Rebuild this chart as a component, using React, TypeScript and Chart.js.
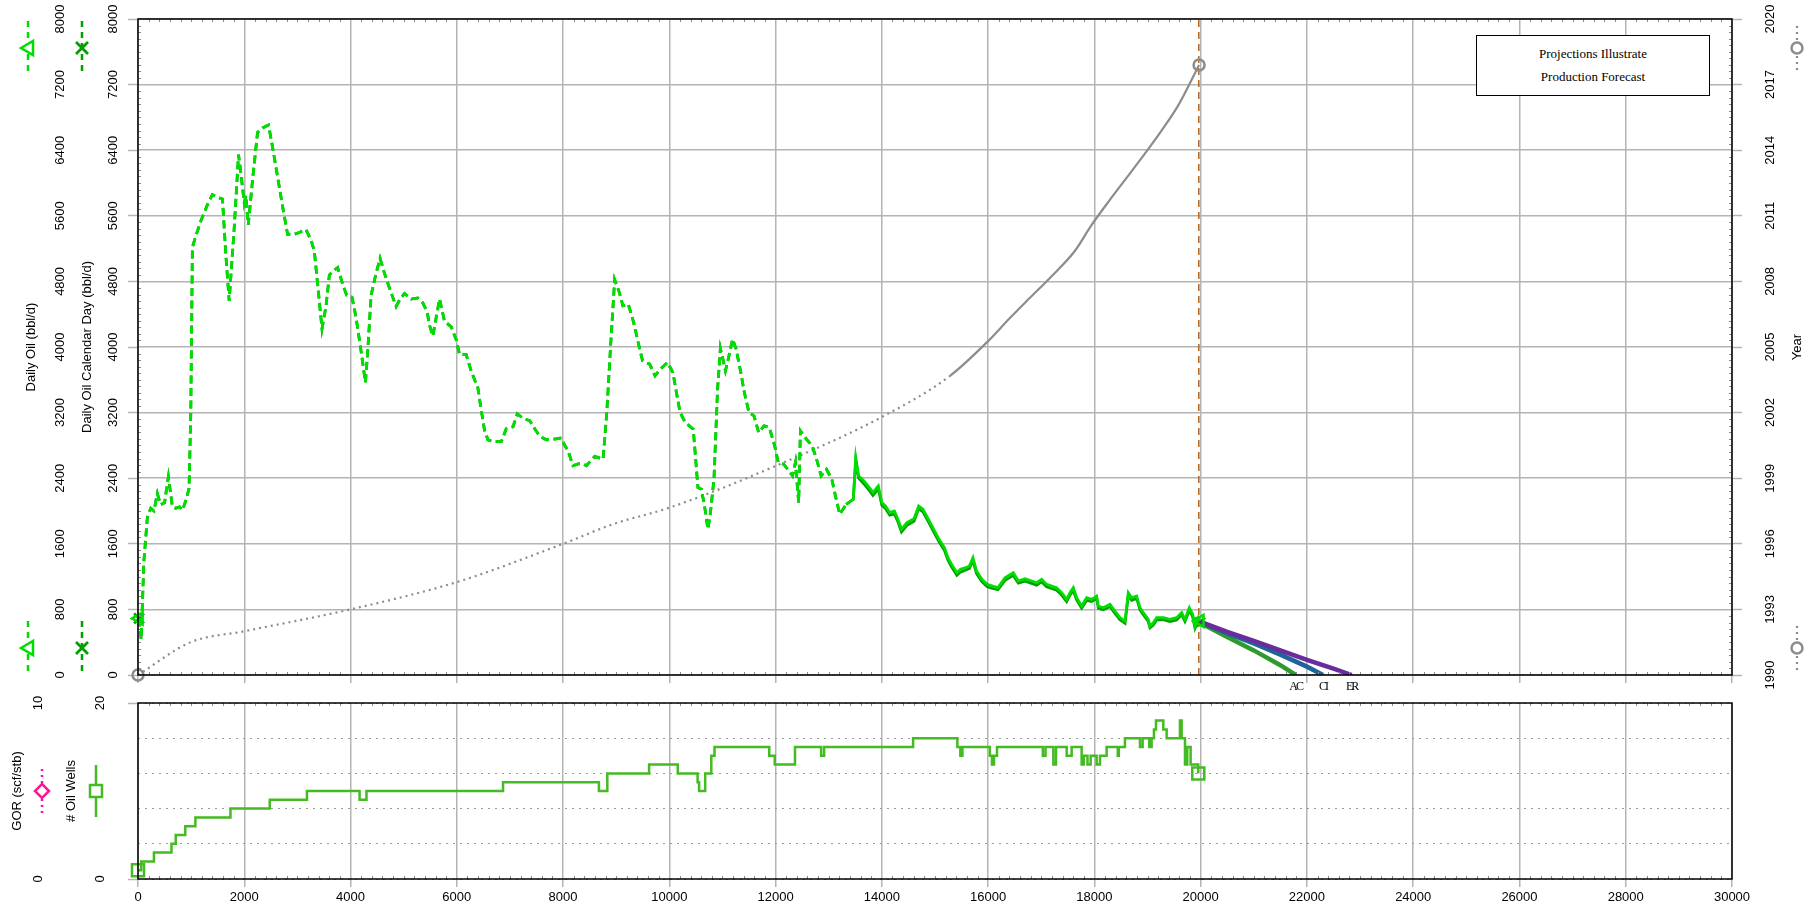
import React, { useEffect, useRef } from 'react';
import { Chart, registerables } from 'chart.js';

Chart.register(...registerables);

// ---------- data ----------
const oilX = [
  20, 60, 110, 176, 239, 300, 364, 427, 500, 572,
  647, 710, 780, 836, 911, 961, 993, 1024, 1087, 1181,
  1307, 1401, 1496, 1590, 1653, 1716, 1747, 1810, 1892, 1936,
  1999, 2031, 2075, 2155, 2250, 2344, 2457, 2533, 2627, 2721,
  2815, 2941, 3035, 3161, 3255, 3318, 3381, 3463, 3538, 3601,
  3664, 3758, 3852, 3928, 4028, 4104, 4198, 4280, 4324, 4387,
  4481, 4556, 4638, 4732, 4858, 4933, 5015, 5140, 5266, 5360,
  5442, 5486, 5549, 5612, 5675, 5769, 5895, 5989, 6052, 6177,
  6272, 6397, 6460, 6523, 6586, 6680, 6837, 6931, 7057, 7139,
  7246, 7371, 7465, 7560, 7685, 7842, 7968, 8031, 8094, 8188,
  8282, 8376, 8439, 8596, 8753, 8823, 8891, 8971, 9059, 9126,
  9227, 9328, 9428, 9496, 9630, 9731, 9832, 9966, 10067, 10134,
  10202, 10302, 10450, 10491, 10538, 10605, 10672, 10726, 10773, 10840,
  10908, 10961, 11008, 11056, 11109, 11190, 11257, 11345, 11412, 11499,
  11593, 11681, 11782, 11882, 11983, 12050, 12151, 12252, 12319, 12373,
  12434, 12467, 12554, 12689, 12790, 12857, 12958, 13059, 13126, 13207,
  13328, 13462, 13509, 13563, 13664, 13765, 13832, 13933, 14000, 14067,
  14148, 14235, 14302, 14370, 14471, 14605, 14692, 14773, 14874, 14975,
  15076, 15177, 15244, 15311, 15412, 15479, 15580, 15647, 15714, 15782,
  15882, 15983, 16084, 16185, 16317, 16474, 16568, 16694, 16819, 16913,
  17007, 17101, 17289, 17384, 17478, 17540, 17603, 17666, 17760, 17854,
  17948, 18042, 18074, 18168, 18293, 18387, 18481, 18576, 18638, 18701,
  18795, 18858, 18920, 19014, 19046, 19109, 19171, 19297, 19422, 19548,
  19642, 19705, 19786, 19849, 19893, 19955, 19987,
];

const oilDaily = [
  690, 430, 1380, 1920, 2033, 2000, 2213, 2078, 2100, 2416,
  2055, 2033, 2050, 2010, 2146, 2281, 3184, 5217, 5352, 5533,
  5736, 5858, 5826, 5804, 5126, 4562, 4855, 5442, 6346, 6120,
  5759, 5849, 5488, 6029, 6617, 6671, 6707, 6436, 6075, 5714,
  5375, 5375, 5397, 5433, 5307, 5171, 4765, 4223, 4494, 4878,
  4923, 4968, 4765, 4630, 4607, 4359, 3952, 3568, 3952, 4630,
  4900, 5081, 4900, 4720, 4494, 4585, 4652, 4585, 4598, 4539,
  4426, 4268, 4133, 4359, 4585, 4314, 4246, 4088, 3907, 3907,
  3704, 3501, 3230, 2981, 2868, 2846, 2846, 3004, 3027, 3184,
  3130, 3103, 3004, 2914, 2868, 2877, 2891, 2801, 2733, 2552,
  2575, 2575, 2552, 2665, 2633, 3201, 3974, 4820, 4666, 4503,
  4524, 4300, 4015, 3832, 3791, 3649, 3730, 3811, 3689, 3445,
  3201, 3079, 2998, 2672, 2286, 2265, 2021, 1777, 1980, 2387,
  3486, 3982, 3852, 3710, 3852, 4096, 3974, 3689, 3445, 3201,
  3160, 2957, 3038, 3018, 2794, 2591, 2571, 2489, 2428, 2591,
  2103, 2977, 2896, 2794, 2591, 2428, 2509, 2387, 2184, 1960,
  2082, 2143, 2652, 2428, 2367, 2286, 2225, 2306, 2103, 2062,
  1981, 2001, 1899, 1777, 1858, 1907, 2062, 2021, 1899, 1777,
  1655, 1553, 1431, 1350, 1248, 1289, 1309, 1329, 1431, 1268,
  1167, 1106, 1085, 1065, 1186, 1247, 1146, 1174, 1146, 1125,
  1166, 1105, 1064, 1003, 922, 1003, 1064, 942, 841, 942,
  922, 963, 841, 820, 861, 780, 699, 658, 1003, 942,
  963, 820, 760, 678, 597, 638, 699, 699, 678, 699,
  760, 678, 820, 740, 597, 699, 660,
];

const oilCalendar = [
  690, 430, 1380, 1920, 2033, 2000, 2213, 2078, 2100, 2416,
  2055, 2033, 2050, 2010, 2146, 2281, 3184, 5217, 5352, 5533,
  5736, 5858, 5826, 5804, 5126, 4562, 4855, 5442, 6346, 6120,
  5759, 5849, 5488, 6029, 6617, 6671, 6707, 6436, 6075, 5714,
  5375, 5375, 5397, 5433, 5307, 5171, 4765, 4223, 4494, 4878,
  4923, 4968, 4765, 4630, 4607, 4359, 3952, 3568, 3952, 4630,
  4900, 5081, 4900, 4720, 4494, 4585, 4652, 4585, 4598, 4539,
  4426, 4268, 4133, 4359, 4585, 4314, 4246, 4088, 3907, 3907,
  3704, 3501, 3230, 2981, 2868, 2846, 2846, 3004, 3027, 3184,
  3130, 3103, 3004, 2914, 2868, 2877, 2891, 2801, 2733, 2552,
  2575, 2575, 2552, 2665, 2633, 3201, 3974, 4820, 4666, 4503,
  4524, 4300, 4015, 3832, 3791, 3649, 3730, 3811, 3689, 3445,
  3201, 3079, 2998, 2672, 2286, 2265, 2021, 1777, 1980, 2387,
  3486, 3982, 3852, 3710, 3852, 4096, 3974, 3689, 3445, 3201,
  3160, 2957, 3038, 3018, 2794, 2591, 2571, 2489, 2428, 2591,
  2103, 2977, 2896, 2794, 2591, 2428, 2509, 2387, 2184, 1960,
  2082, 2143, 2610, 2400, 2330, 2250, 2190, 2270, 2070, 2030,
  1950, 1965, 1870, 1745, 1825, 1875, 2030, 1990, 1870, 1745,
  1625, 1520, 1400, 1320, 1215, 1255, 1280, 1300, 1395, 1235,
  1140, 1075, 1055, 1040, 1155, 1215, 1120, 1145, 1118, 1095,
  1135, 1075, 1035, 975, 895, 975, 1030, 915, 815, 910,
  895, 935, 815, 795, 835, 752, 675, 632, 970, 912,
  935, 795, 735, 652, 575, 610, 672, 675, 652, 672,
  735, 652, 790, 712, 572, 672, 640,
];

const yearX = [0, 993, 1999, 3997, 6001, 8000, 8942, 10000, 12000, 14000, 15277, 16000, 16400, 16757, 17200, 17631, 17939, 18267, 18594, 18922, 19250, 19578, 19970];
const yearV = [1990.0, 1991.5, 1992.0, 1993.0, 1994.25, 1996.0, 1996.9, 1997.65, 1999.56, 2001.8, 2003.67, 2005.27, 2006.3, 2007.18, 2008.25, 2009.39, 2010.55, 2011.65, 2012.7, 2013.75, 2014.85, 2016.05, 2017.9];

const acX = [19987, 20500, 21000, 21500, 21788];
const acY = [638, 462, 300, 120, 0];
const ciX = [19987, 20500, 21000, 21500, 22000, 22302];
const ciY = [645, 508, 385, 248, 102, 0];
const erX = [19987, 20500, 21000, 21500, 22000, 22500, 22842];
const erY = [650, 525, 415, 300, 185, 78, 0];
const forecastNames = ['AC', 'CI', 'ER'];

const wellX = [
  0, 60, 300, 630, 710, 890, 1080, 1740, 2480, 3180,
  4170, 4300, 6870, 8675, 8833, 9619, 10159, 10532, 10560, 10675,
  10790, 10850, 11881, 11984, 12365, 12857, 12913, 14588, 15421, 15477,
  15516, 16032, 16072, 16111, 16167, 17030, 17080, 17227, 17277, 17478,
  17572, 17760, 17800, 17870, 17930, 18042, 18105, 18230, 18440, 18460,
  18575, 18858, 18908, 19033, 19077, 19121, 19159, 19297, 19360, 19610,
  19642, 19705, 19748, 19811, 19955,
];
const wellN = [
  1, 2, 3, 4, 5, 6, 7, 8, 9, 10,
  9, 10, 11, 10, 12, 13, 12, 11, 10, 12,
  14, 15, 14, 13, 15, 14, 15, 16, 15, 14,
  15, 14, 13, 14, 15, 14, 15, 13, 15, 14,
  15, 13, 14, 13, 14, 13, 14, 15, 14, 15,
  16, 15, 16, 15, 16, 17, 18, 17, 16, 18,
  16, 13, 15, 13, 12,
];

const forecastStartX = 19965;
const dashedOilUntil = 13300;
const dottedYearUntil = 15277;

// ---------- styles ----------
const FONT = "'Liberation Sans', Arial, sans-serif";
const SERIF = "'Liberation Serif', 'Times New Roman', serif";
const GRID = '#b4b4b4';
const OIL = '#00dd00';
const OIL_CAL = '#00a000';
const WELLS = '#44bb22';
const YEARC = '#8c8c8c';
const PINK = '#ff1493';
const AC_C = '#2f9a2f';
const CI_C = '#1e6496';
const ER_C = '#6a2c9c';
const VLINE = '#b5651d';

const tickFont = { family: FONT, size: 13 };
const numLabel = (v: any) => String(v);

const pts = (xs: number[], ys: number[]) => xs.map((x, i) => ({ x, y: ys[i] }));
const endsOnly = (n: number, r: number) => (c: any) => (c.dataIndex === 0 || c.dataIndex === n - 1 ? r : 0);
const fixW = (w: number) => (s: any) => { s.width = w; s.paddingTop = 0; s.paddingBottom = 0; };
const fixH = (h: number) => (s: any) => { s.height = h; };

// ---------- glyph helpers ----------
function vline(ctx: CanvasRenderingContext2D, x: number, y1: number, y2: number, color: string, w: number, dash: number[]) {
  ctx.save();
  ctx.strokeStyle = color;
  ctx.lineWidth = w;
  ctx.setLineDash(dash);
  ctx.beginPath();
  ctx.moveTo(x, y1);
  ctx.lineTo(x, y2);
  ctx.stroke();
  ctx.restore();
}
function gTriangle(ctx: CanvasRenderingContext2D, x: number, y: number) {
  vline(ctx, x, y - 27, y + 27, OIL, 2.5, [6, 5]);
  ctx.save();
  ctx.fillStyle = '#fff';
  ctx.strokeStyle = OIL;
  ctx.lineWidth = 2.5;
  ctx.beginPath();
  ctx.moveTo(x - 7, y);
  ctx.lineTo(x + 5, y - 7);
  ctx.lineTo(x + 5, y + 7);
  ctx.closePath();
  ctx.fill();
  ctx.stroke();
  ctx.restore();
}
function gCross(ctx: CanvasRenderingContext2D, x: number, y: number) {
  vline(ctx, x, y - 27, y + 27, OIL_CAL, 2.5, [6, 5]);
  ctx.save();
  ctx.strokeStyle = OIL_CAL;
  ctx.lineWidth = 2.8;
  ctx.beginPath();
  ctx.moveTo(x - 6, y - 6);
  ctx.lineTo(x + 6, y + 6);
  ctx.moveTo(x + 6, y - 6);
  ctx.lineTo(x - 6, y + 6);
  ctx.stroke();
  ctx.restore();
}
function gCircle(ctx: CanvasRenderingContext2D, x: number, y: number) {
  vline(ctx, x, y - 22, y + 22, YEARC, 2.2, [2, 4]);
  ctx.save();
  ctx.fillStyle = '#fff';
  ctx.strokeStyle = YEARC;
  ctx.lineWidth = 2.5;
  ctx.beginPath();
  ctx.arc(x, y, 5.5, 0, Math.PI * 2);
  ctx.fill();
  ctx.stroke();
  ctx.restore();
}
function gDiamond(ctx: CanvasRenderingContext2D, x: number, y: number) {
  vline(ctx, x, y - 22, y + 22, PINK, 2.5, [2, 4]);
  ctx.save();
  ctx.fillStyle = '#fff';
  ctx.strokeStyle = PINK;
  ctx.lineWidth = 2.5;
  ctx.beginPath();
  ctx.moveTo(x, y - 7);
  ctx.lineTo(x + 7, y);
  ctx.lineTo(x, y + 7);
  ctx.lineTo(x - 7, y);
  ctx.closePath();
  ctx.fill();
  ctx.stroke();
  ctx.restore();
}
function gSquare(ctx: CanvasRenderingContext2D, x: number, y: number) {
  vline(ctx, x, y - 26, y + 26, WELLS, 2.5, []);
  ctx.save();
  ctx.fillStyle = '#fff';
  ctx.strokeStyle = WELLS;
  ctx.lineWidth = 2.5;
  ctx.beginPath();
  ctx.rect(x - 6, y - 6, 12, 12);
  ctx.fill();
  ctx.stroke();
  ctx.restore();
}

function drawFrameAndMinor(chart: any, yScaleId: string | null, yMinorStep: number, yMajor: number) {
  const ctx: CanvasRenderingContext2D = chart.ctx;
  const a = chart.chartArea;
  const xs = chart.scales.x;
  ctx.save();
  ctx.strokeStyle = '#8a8a8a';
  ctx.lineWidth = 1;
  ctx.beginPath();
  for (let v = 200; v < 30000; v += 200) {
    if (v % 2000 === 0) continue;
    const px = Math.round(xs.getPixelForValue(v)) + 0.5;
    ctx.moveTo(px, a.top);
    ctx.lineTo(px, a.top + 3);
    ctx.moveTo(px, a.bottom);
    ctx.lineTo(px, a.bottom - 3);
  }
  if (yScaleId) {
    const ys = chart.scales[yScaleId];
    for (let v = yMinorStep; v < ys.max - ys.min; v += yMinorStep) {
      if (Math.abs(v % yMajor) < 1e-6) continue;
      const py = Math.round(ys.getPixelForValue(ys.min + v)) + 0.5;
      ctx.moveTo(a.left, py);
      ctx.lineTo(a.left + 3, py);
      ctx.moveTo(a.right, py);
      ctx.lineTo(a.right - 3, py);
    }
  }
  ctx.stroke();
  ctx.strokeStyle = '#000';
  ctx.lineWidth = 1.5;
  ctx.strokeRect(a.left, a.top, a.right - a.left, a.bottom - a.top);
  ctx.restore();
}

const mainDecor = {
  id: 'mainDecor',
  afterDraw(chart: any) {
    const ctx: CanvasRenderingContext2D = chart.ctx;
    const a = chart.chartArea;
    drawFrameAndMinor(chart, 'yOil', 80, 800);
    const outerX = chart.scales.yOil.left + 28;
    const innerX = chart.scales.yCal.left + 2;
    const rightX = chart.scales.yYear.left + 65;
    const topY = a.top + 29;
    const botY = a.bottom - 27;
    gTriangle(ctx, outerX, topY);
    gTriangle(ctx, outerX, botY);
    gCross(ctx, innerX, topY);
    gCross(ctx, innerX, botY);
    gCircle(ctx, rightX, topY);
    gCircle(ctx, rightX, botY);
    // Year title (reads bottom to top)
    ctx.save();
    ctx.translate(rightX, (a.top + a.bottom) / 2);
    ctx.rotate(-Math.PI / 2);
    ctx.font = `13px ${FONT}`;
    ctx.fillStyle = '#000';
    ctx.textAlign = 'center';
    ctx.textBaseline = 'middle';
    ctx.fillText('Year', 0, 0);
    ctx.restore();
    // forecast case labels
    const ends = [acX[acX.length - 1], ciX[ciX.length - 1], erX[erX.length - 1]];
    ctx.save();
    ctx.font = `12px ${SERIF}`;
    ctx.fillStyle = '#000';
    ctx.textAlign = 'center';
    ctx.textBaseline = 'middle';
    try { (ctx as any).letterSpacing = '-2px'; } catch (e) { /* ignore */ }
    ends.forEach((v, i) => {
      ctx.fillText(forecastNames[i], chart.scales.x.getPixelForValue(v), a.bottom + 12);
    });
    ctx.restore();
  },
};

const lowDecor = {
  id: 'lowDecor',
  afterDraw(chart: any) {
    const ctx: CanvasRenderingContext2D = chart.ctx;
    const a = chart.chartArea;
    drawFrameAndMinor(chart, null, 0, 0);
    const cy = (a.top + a.bottom) / 2;
    gDiamond(ctx, chart.scales.yGOR.left + 42, cy);
    gSquare(ctx, chart.scales.yWells.left + 38, cy);
  },
};

function mainConfig(): any {
  const n = oilX.length;
  return {
    type: 'line',
    data: {
      datasets: [
        {
          label: 'Daily Oil',
          data: pts(oilX, oilDaily),
          yAxisID: 'yOil',
          borderColor: OIL,
          borderWidth: 2.8,
          borderDash: [],
          segment: { borderDash: (c: any) => (c.p0.parsed.x < dashedOilUntil ? [8, 4.5] : undefined) },
          pointStyle: 'triangle',
          pointRotation: -90,
          pointRadius: endsOnly(n, 7),
          pointBorderColor: OIL,
          pointBackgroundColor: 'rgba(255,255,255,0)',
          pointBorderWidth: 2.5,
          tension: 0,
          clip: false,
        },
        {
          label: 'ER',
          data: pts(erX, erY),
          yAxisID: 'yOil',
          borderColor: ER_C,
          borderWidth: 4.5,
          pointRadius: 0,
        },
        {
          label: 'CI',
          data: pts(ciX, ciY),
          yAxisID: 'yOil',
          borderColor: CI_C,
          borderWidth: 4.5,
          pointRadius: 0,
        },
        {
          label: 'AC',
          data: pts(acX, acY),
          yAxisID: 'yOil',
          borderColor: AC_C,
          borderWidth: 4.5,
          pointRadius: 0,
        },
        {
          label: 'Daily Oil Calendar Day',
          data: pts(oilX, oilCalendar),
          yAxisID: 'yCal',
          borderColor: OIL_CAL,
          borderWidth: 2.8,
          borderDash: [],
          segment: { borderDash: (c: any) => (c.p0.parsed.x < dashedOilUntil ? [8, 4.5] : undefined) },
          pointStyle: 'crossRot',
          pointRadius: endsOnly(n, 7),
          pointBorderColor: OIL_CAL,
          pointBorderWidth: 2.8,
          tension: 0,
          clip: false,
        },
        {
          label: 'Year',
          data: pts(yearX, yearV),
          yAxisID: 'yYear',
          borderColor: YEARC,
          borderWidth: 2.2,
          borderDash: [],
          cubicInterpolationMode: 'monotone',
          segment: { borderDash: (c: any) => (c.p0.parsed.x < dottedYearUntil ? [2, 4] : undefined) },
          pointStyle: 'circle',
          pointRadius: endsOnly(yearX.length, 5.5),
          pointBorderColor: YEARC,
          pointBackgroundColor: 'rgba(255,255,255,0)',
          pointBorderWidth: 2.5,
          clip: false,
        },
        {
          label: 'Forecast start',
          data: [{ x: forecastStartX, y: 0 }, { x: forecastStartX, y: 8000 }],
          yAxisID: 'yOil',
          borderColor: VLINE,
          borderWidth: 1.5,
          borderDash: [7, 5],
          pointRadius: 0,
        },
      ],
    },
    options: {
      animation: false,
      responsive: false,
      maintainAspectRatio: false,
      events: [],
      layout: { padding: { top: 19, left: 0, right: 0, bottom: 0 } },
      plugins: { legend: { display: false }, tooltip: { enabled: false } },
      scales: {
        x: {
          type: 'linear',
          position: 'bottom',
          min: 0,
          max: 30000,
          ticks: { stepSize: 2000, display: false },
          grid: { color: GRID, lineWidth: 1.5, tickLength: 8, tickColor: GRID, tickWidth: 1.5 },
          border: { display: false },
          afterFit: fixH(17),
        },
        yOil: {
          type: 'linear',
          position: 'left',
          weight: 2,
          min: 0,
          max: 8000,
          ticks: { stepSize: 800, minRotation: 90, maxRotation: 90, crossAlign: 'center', padding: 5.5, autoSkip: false, font: tickFont, color: '#000', callback: numLabel },
          grid: { color: GRID, lineWidth: 1.5, drawTicks: false },
          border: { display: false },
          title: { display: true, text: 'Daily Oil (bbl/d)', font: tickFont, color: '#000', padding: { top: 24, bottom: 0 } },
          afterFit: fixW(80),
        },
        yCal: {
          type: 'linear',
          position: 'left',
          weight: 1,
          min: 0,
          max: 8000,
          ticks: { stepSize: 800, minRotation: 90, maxRotation: 90, crossAlign: 'center', padding: 0.5, autoSkip: false, font: tickFont, color: '#000', callback: numLabel },
          grid: { drawOnChartArea: false, tickLength: 10, tickColor: GRID, tickWidth: 1.5 },
          border: { display: false },
          title: { display: true, text: 'Daily Oil Calendar Day (bbl/d)', font: tickFont, color: '#000', padding: { top: 0, bottom: 0 } },
          afterFit: fixW(58),
        },
        yYear: {
          type: 'linear',
          position: 'right',
          min: 1990,
          max: 2020,
          ticks: { stepSize: 3, minRotation: 90, maxRotation: 90, crossAlign: 'center', padding: 13.5, autoSkip: false, font: tickFont, color: '#000', callback: numLabel },
          grid: { drawOnChartArea: false, tickLength: 10, tickColor: GRID, tickWidth: 1.5 },
          border: { display: false },
          afterFit: fixW(88),
        },
      },
    },
    plugins: [mainDecor],
  };
}

function lowConfig(): any {
  return {
    type: 'line',
    data: {
      datasets: [
        {
          label: '# Oil Wells',
          data: pts(wellX, wellN),
          yAxisID: 'yWells',
          borderColor: WELLS,
          borderWidth: 2.5,
          stepped: true,
          pointStyle: 'rect',
          pointRadius: endsOnly(wellX.length, 8.5),
          pointBorderColor: WELLS,
          pointBackgroundColor: 'rgba(255,255,255,0)',
          pointBorderWidth: 2.5,
          clip: false,
        },
      ],
    },
    options: {
      animation: false,
      responsive: false,
      maintainAspectRatio: false,
      events: [],
      layout: { padding: { top: 10, left: 0, right: 88, bottom: 0 } },
      plugins: { legend: { display: false }, tooltip: { enabled: false } },
      scales: {
        x: {
          type: 'linear',
          position: 'bottom',
          min: 0,
          max: 30000,
          ticks: { stepSize: 2000, font: tickFont, color: '#000', padding: 3, callback: numLabel, maxRotation: 0, autoSkip: false },
          grid: { color: GRID, lineWidth: 1.5, tickLength: 8, tickColor: GRID, tickWidth: 1.5 },
          border: { display: false },
          afterFit: fixH(32),
        },
        yGOR: {
          type: 'linear',
          position: 'left',
          weight: 2,
          min: 0,
          max: 10,
          ticks: { stepSize: 10, minRotation: 90, maxRotation: 90, crossAlign: 'center', padding: 4.8, autoSkip: false, font: tickFont, color: '#000', callback: numLabel },
          grid: { display: false },
          border: { display: false },
          title: { display: true, text: 'GOR (scf/stb)', font: tickFont, color: '#000', padding: { top: 10, bottom: 0 } },
          afterFit: fixW(58),
        },
        yWells: {
          type: 'linear',
          position: 'left',
          weight: 1,
          min: 0,
          max: 20,
          ticks: {
            stepSize: 4, minRotation: 90, maxRotation: 90, crossAlign: 'center', padding: 20.8, autoSkip: false, font: tickFont, color: '#000',
            callback: (v: any) => (v === 0 || v === 20 ? String(v) : ''),
          },
          grid: {
            color: '#9a9a9a',
            lineWidth: 1,
            tickLength: 10,
            tickWidth: 1.5,
            tickColor: (c: any) => (c.tick && (c.tick.value === 0 || c.tick.value === 20) ? GRID : 'rgba(0,0,0,0)'),
          },
          border: { display: false, dash: [2, 5] },
          title: { display: true, text: '# Oil Wells', font: tickFont, color: '#000', padding: { top: 6, bottom: 0 } },
          afterFit: fixW(80),
        },
      },
    },
    plugins: [lowDecor],
  };
}

export default function App() {
  const mainRef = useRef<HTMLCanvasElement>(null);
  const lowRef = useRef<HTMLCanvasElement>(null);
  useEffect(() => {
    const c1 = new Chart(mainRef.current as HTMLCanvasElement, mainConfig());
    const c2 = new Chart(lowRef.current as HTMLCanvasElement, lowConfig());
    return () => {
      c1.destroy();
      c2.destroy();
    };
  }, []);
  return (
    <div style={{ position: 'fixed', left: 0, top: 0, width: 1820, height: 911, background: '#fff', overflow: 'hidden' }}>
      <canvas ref={mainRef} width={1820} height={692} style={{ position: 'absolute', left: 0, top: 0, width: 1820, height: 692, display: 'block' }} />
      <canvas ref={lowRef} width={1820} height={219} style={{ position: 'absolute', left: 0, top: 692, width: 1820, height: 219, display: 'block' }} />
      <div
        style={{
          position: 'absolute', left: 1476, top: 35, width: 234, height: 61, boxSizing: 'border-box',
          border: '1px solid #000', background: '#fff', fontFamily: SERIF, fontSize: 13, color: '#000',
          textAlign: 'center', lineHeight: '23px', paddingTop: 6,
        }}
      >
        <div>Projections Illustrate</div>
        <div>Production Forecast</div>
      </div>
    </div>
  );
}
